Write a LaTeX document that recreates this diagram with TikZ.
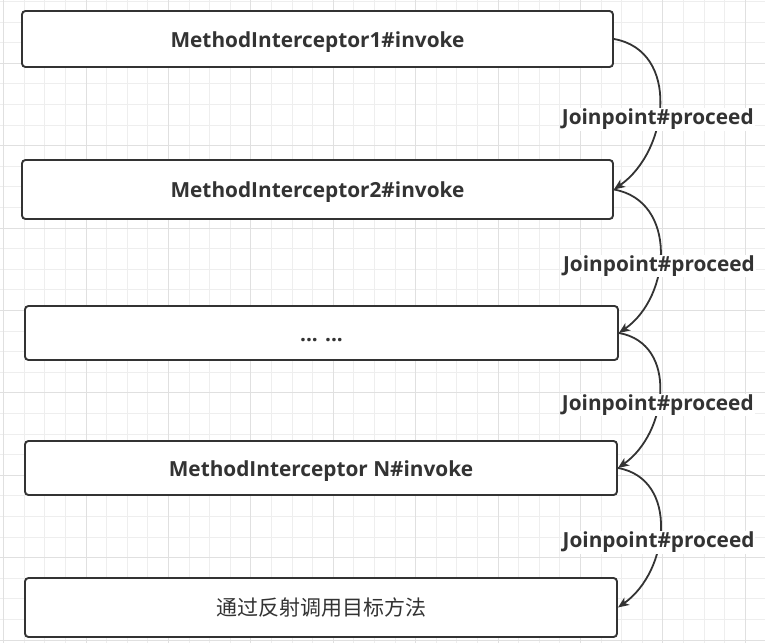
\documentclass[tikz,border=0pt]{standalone}
\usepackage{fontspec}
\setmainfont{Open Sans}
\newfontfamily\cjk{Noto Sans CJK SC}
\usetikzlibrary{arrows.meta}
\definecolor{ink}{HTML}{333333}
\definecolor{gridline}{HTML}{EEEEEE}
\definecolor{gridmajor}{HTML}{E0E0E0}
\begin{document}
\begin{tikzpicture}[x=1pt, y=-1pt,
    box/.style={draw=ink, line width=1.9pt, rounded corners=3.5pt, fill=white, inner sep=0pt, text=ink, text height=21pt, text depth=4.5pt, font=\fontsize{20.8}{24}\selectfont\bfseries},
    lbl/.style={fill=white, text=ink, inner sep=1pt, pos=0.58, font=\fontsize{20.8}{24}\selectfont\bfseries},
    flow/.style={draw=ink, line width=1.8pt, ->, >={Stealth[length=11pt, width=9pt, inset=3pt]}, out=-10, in=35, looseness=1.15}]
    \useasboundingbox (0,0) rectangle (765,643);
    % Grid
    \foreach \i in {0,...,37} {
        \draw[gridline, line width=0.8pt] (3.5+20.6*\i,0) -- (3.5+20.6*\i,643);
    }
    \foreach \i in {0,...,31} {
        \draw[gridline, line width=0.8pt] (0,1.3+20.6*\i) -- (765,1.3+20.6*\i);
    }
    \foreach \i in {0,...,9} {
        \draw[gridmajor, line width=0.8pt] (3.5+82.4*\i,0) -- (3.5+82.4*\i,643);
    }
    \foreach \i in {0,...,7} {
        \draw[gridmajor, line width=0.8pt] (0,63.1+82.4*\i) -- (765,63.1+82.4*\i);
    }

    % Nodes
    \node[box, minimum width=591pt, minimum height=56pt] (mi1) at (317.5,39) {MethodInterceptor1\#invoke};
    \node[box, minimum width=591pt, minimum height=59pt] (mi2) at (317.5,189.5) {MethodInterceptor2\#invoke};
    \node[box, minimum width=593pt, minimum height=54pt] (dots) at (321.5,333) {... ...};
    \node[box, minimum width=592pt, minimum height=54pt] (min) at (321,468) {MethodInterceptor N\#invoke};
    \node[box, minimum width=592pt, minimum height=59pt, font=\fontsize{21}{24}\selectfont\cjk] (target) at (321,607.5) {通过反射调用目标方法};

    % Arrows
    \draw[flow] (mi1.east) to node[lbl] {Joinpoint\#proceed} (mi2.east);
    \draw[flow] (mi2.east) to node[lbl] {Joinpoint\#proceed} (dots.east);
    \draw[flow] (dots.east) to node[lbl] {Joinpoint\#proceed} (min.east);
    \draw[flow] (min.east) to node[lbl] {Joinpoint\#proceed} (target.east);
\end{tikzpicture}
\end{document}
